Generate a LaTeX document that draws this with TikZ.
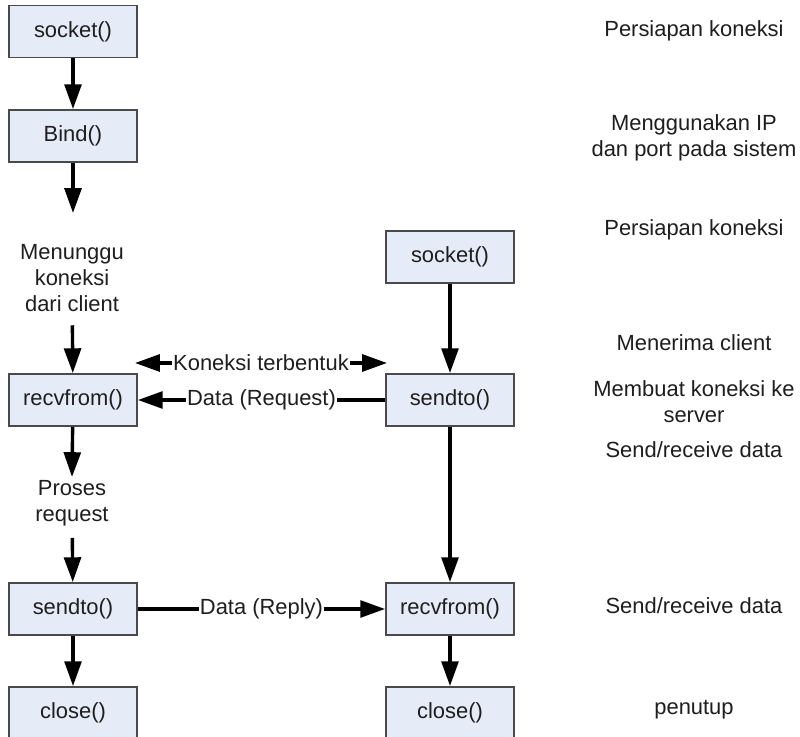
\documentclass[tikz,border=0pt]{standalone}
\usepackage{fontspec}
\setmainfont{Liberation Sans}
\usepackage{xcolor}
\usetikzlibrary{arrows.meta}
\definecolor{callfill}{HTML}{E6ECF7}
\definecolor{callline}{HTML}{4A4A4A}
\definecolor{ink}{HTML}{1E1E1E}

\begin{document}
\begin{tikzpicture}[x=0.25mm, y=-0.25mm,
  font=\fontsize{15.6}{18.3}\selectfont, text=ink,
  call/.style={draw=callline, fill=callfill, line width=0.45mm,
    minimum width=32mm, minimum height=13mm, inner sep=0pt},
  note/.style={align=center, inner sep=0pt},
  flow/.style={line width=0.85mm, -{Triangle[length=6.2mm, width=4.2mm]}},
  flows/.style={line width=0.85mm, {Triangle[length=6.2mm, width=4.2mm]}-{Triangle[length=6.2mm, width=4.2mm]}}]

\useasboundingbox[fill=white] (0,0) rectangle (800,737);

% server
\node[call] (sockL) at (73,31.5) {socket()};
\node[call] (bind)  at (73,136)  {Bind()};
\coordinate (bindend) at (73,213);
\node[note] (wait)  at (72,278)  {Menunggu\\koneksi\\dari client};
\node[call] (recvL) at (73,400)  {recvfrom()};
\node[note] (proc)  at (72,503)  {Proses\\request};
\node[call] (sendL) at (73,609)  {sendto()};
\node[call] (closeL) at (73,713) {close()};

% client
\node[call] (sockR) at (450,257) {socket()};
\node[call] (sendR) at (450,400) {sendto()};
\node[call] (recvR) at (450,609) {recvfrom()};
\node[call] (closeR) at (450,713) {close()};

% notes
\node[note] (n1) at (694,31)  {Persiapan koneksi};
\node[note] (n2) at (694,138) {Menggunakan IP\\dan port pada sistem};
\node[note] (n3) at (694,230) {Persiapan koneksi};
\node[note] (n4) at (694,343) {Menerima client};
\node[note] (n5) at (694,402) {Membuat koneksi ke\\server};
\node[note] (n6) at (694,450) {Send/receive data};
\node[note] (n7) at (694,606) {Send/receive data};
\node[note] (n8) at (694,710) {penutup};

\draw[flow] (sockL) -- (bind);
\draw[flow] (bind) -- (bindend);
\draw[flow, shorten <=3.4mm] (wait) -- (recvL);
\draw[flow] (recvL) -- (proc.north |- 0,477);
\draw[flow, shorten <=3mm] (proc) -- (sendL);
\draw[flow] (sendL) -- (closeL);

\draw[flow] (sockR) -- (recvR |- sendR.north);
\draw[flow] (sendR) -- (recvR);
\draw[flow] (recvR) -- (closeR);

\coordinate (linkL) at (135,363);
\coordinate (linkR) at (387,363);
\draw[flows] (linkL) -- node[fill=white, inner sep=1pt] {Koneksi terbentuk} (linkR);
\draw[flow] (sendR) -- node[fill=white, inner sep=1pt] {Data (Request)} (recvL);
\draw[flow] (sendL) -- node[fill=white, inner sep=1pt] {Data (Reply)} (recvR);

\end{tikzpicture}
\end{document}
